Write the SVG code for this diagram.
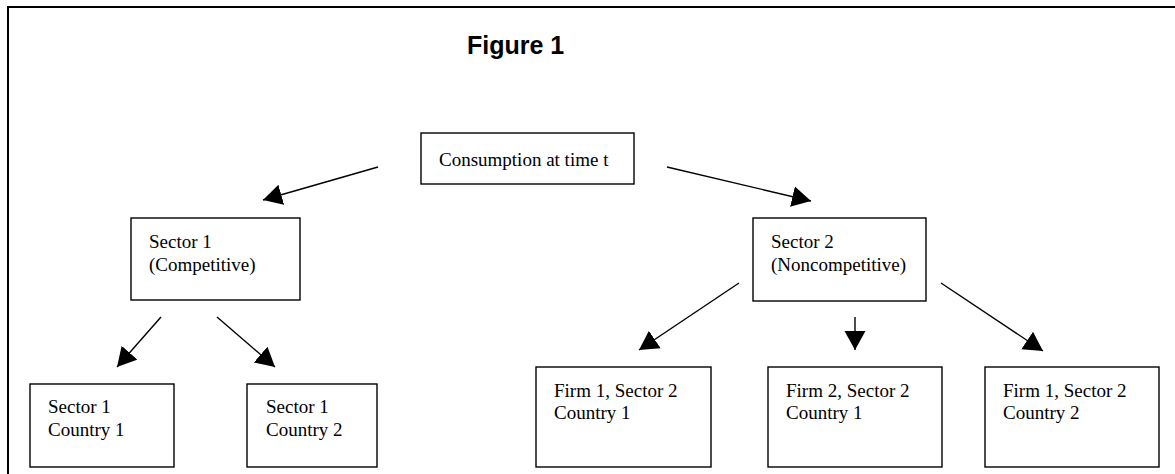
<svg xmlns="http://www.w3.org/2000/svg" width="1175" height="474" viewBox="0 0 1175 474">
<style>
.box{fill:#fff;stroke:#000;stroke-width:1.4}
.t{font-family:"Liberation Serif","Times New Roman",serif;font-size:19px;fill:#000}
.title{font-family:"Liberation Sans",Arial,sans-serif;font-size:25px;font-weight:bold;fill:#000}
.conn{stroke:#000;stroke-width:1.4;fill:none;marker-end:url(#ah)}
</style>
<defs>
<marker id="ah" markerUnits="userSpaceOnUse" markerWidth="20" markerHeight="22" viewBox="0 0 20 22" refX="19" refY="11" orient="auto">
<path d="M0,0.5 L19,11 L0,21.5 Z" fill="#000"/>
</marker>
</defs>
<rect width="1175" height="474" fill="#fff"/>
<g id="frame">
<path d="M8,480 L8,7 L1180,7" fill="none" stroke="#000" stroke-width="2"/>
</g>
<text class="title" x="467" y="54">Figure 1</text>
<g id="connectors">
<line class="conn" x1="378" y1="167" x2="263" y2="200"/>
<line class="conn" x1="667" y1="167" x2="811" y2="201"/>
<line class="conn" x1="161" y1="317" x2="117" y2="367"/>
<line class="conn" x1="217" y1="317" x2="275" y2="367"/>
<line class="conn" x1="739" y1="283" x2="639" y2="350"/>
<line class="conn" x1="855" y1="317" x2="855" y2="350"/>
<line class="conn" x1="941" y1="283" x2="1043" y2="351"/>
</g>
<g id="consumption">
<rect class="box" x="421" y="133" width="213" height="51"/>
<text class="t" x="439" y="166">Consumption at time t</text>
</g>
<g id="sector1">
<rect class="box" x="131" y="218" width="169" height="82"/>
<text class="t" x="149" y="248">Sector 1</text>
<text class="t" x="149" y="271">(Competitive)</text>
</g>
<g id="sector2">
<rect class="box" x="753" y="218" width="173" height="83"/>
<text class="t" x="771" y="248">Sector 2</text>
<text class="t" x="771" y="271">(Noncompetitive)</text>
</g>
<g id="s1c1">
<rect class="box" x="30" y="384" width="144" height="83"/>
<text class="t" x="48" y="413">Sector 1</text>
<text class="t" x="48" y="436">Country 1</text>
</g>
<g id="s1c2">
<rect class="box" x="247" y="384" width="130" height="83"/>
<text class="t" x="266" y="413">Sector 1</text>
<text class="t" x="266" y="436">Country 2</text>
</g>
<g id="f1s2c1">
<rect class="box" x="536" y="367" width="175" height="100"/>
<text class="t" x="554" y="397">Firm 1, Sector 2</text>
<text class="t" x="554" y="419">Country 1</text>
</g>
<g id="f2s2c1">
<rect class="box" x="768" y="367" width="174" height="100"/>
<text class="t" x="786" y="397">Firm 2, Sector 2</text>
<text class="t" x="786" y="419">Country 1</text>
</g>
<g id="f1s2c2">
<rect class="box" x="985" y="367" width="174" height="100"/>
<text class="t" x="1003" y="397">Firm 1, Sector 2</text>
<text class="t" x="1003" y="419">Country 2</text>
</g>
</svg>
